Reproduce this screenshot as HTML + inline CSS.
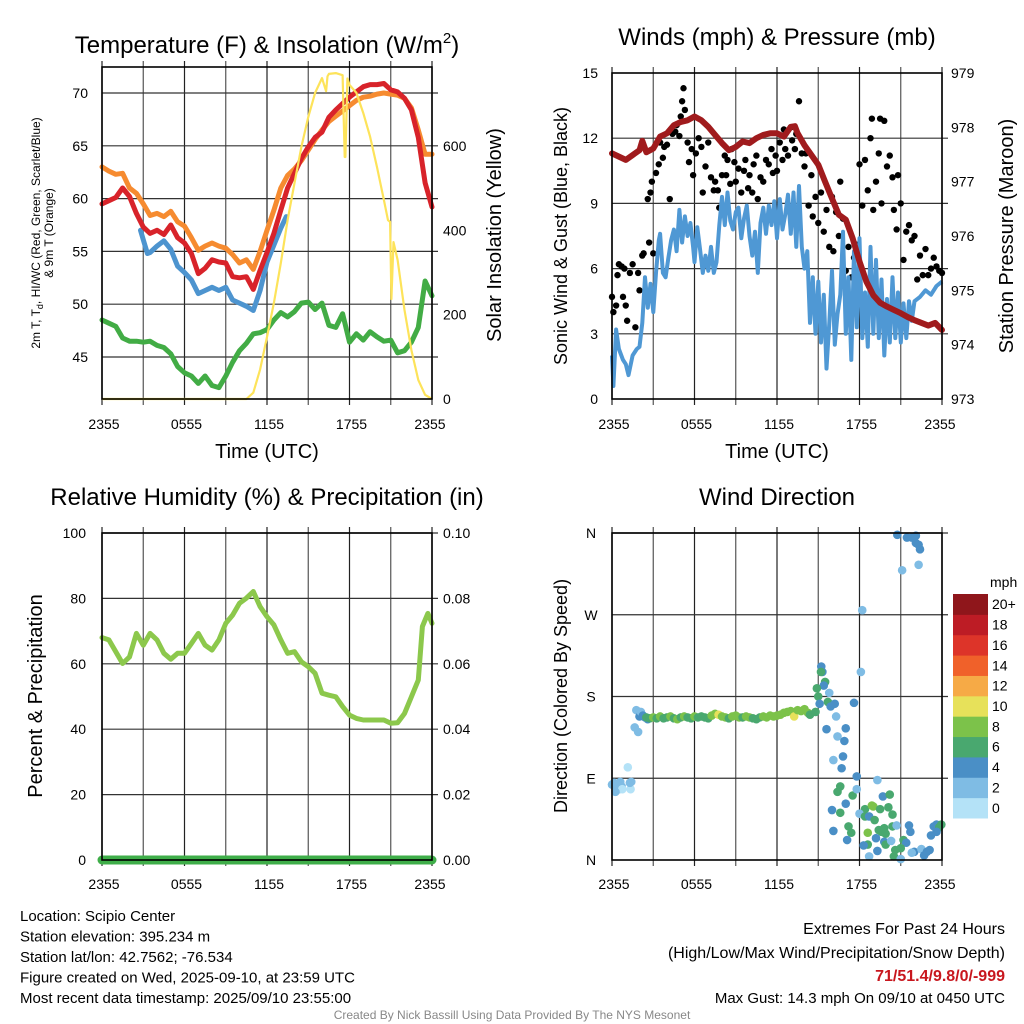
<!DOCTYPE html>
<html><head><meta charset="utf-8">
<style>
html,body{margin:0;padding:0;background:#fff;}
svg{display:block;font-family:"Liberation Sans",Arial,sans-serif;}
</style></head>
<body>
<svg id="chart" width="1024" height="1024" viewBox="0 0 1024 1024" xmlns="http://www.w3.org/2000/svg">
</svg>
<script>
// ---------- DATA ----------
const xTickLabels = ["2355","0555","1155","1755","2355"];
const halfHours = [0,0.5,1,1.5,2,2.5,3,3.5,4,4.5,5,5.5,6,6.5,7,7.5,8,8.5,9,9.5,10,10.5,11,11.5,12,12.5,13,13.5,14,14.5,15,15.5,16,16.5,17,17.5,18,18.5,19,19.5,20,20.5,21,21.5,22,22.5,23,23.5,24];
const temp2m = [59.5,59.8,60.1,61.0,60.2,58.6,57.3,56.7,57.0,56.6,57.5,56.3,55.8,54.8,52.9,53.4,54.2,54.0,53.9,52.6,52.5,52.6,51.4,53.2,54.9,56.7,58.9,61.0,62.4,63.8,64.9,65.8,66.3,67.7,68.4,69.0,69.6,70.1,70.6,70.8,70.8,70.9,70.3,70.1,69.5,68.4,65.8,61.5,59.2];
const temp9m = [63,62.6,62.3,62.4,61.0,60.5,59.5,58.4,58.6,58.3,58.8,57.8,57.4,56.3,55.1,55.5,55.8,55.5,55.3,54.7,53.9,54.2,53.3,55.0,57.0,58.9,61.0,62.2,62.8,63.6,64.6,65.6,66.5,67.3,67.8,68.3,68.8,69.3,69.6,69.7,69.9,70.0,69.9,69.8,69.5,68.6,66.5,64.2,64.2];
const dewpoint = [48.5,48.2,47.9,46.8,46.5,46.5,46.4,46.5,46.1,45.9,45.3,44.1,43.5,43.2,42.5,43.2,42.3,42.1,43.2,44.5,45.6,46.3,47.2,47.3,47.6,48.5,49.2,48.8,49.3,50.1,50.2,49.5,50.1,48.0,47.8,49.1,46.4,47.2,46.6,47.4,46.9,46.5,46.6,45.4,45.6,46.4,47.8,52.2,50.8];
const wcHours = [2.8,3.0,3.3,3.5,4.0,4.5,5.0,5.5,6.0,6.5,7.0,7.5,8.0,8.5,9.0,9.5,10.0,10.5,11.0,11.5,12.0,12.5,13.0,13.4];
const windChill = [57.0,56.1,54.8,54.9,55.5,56.0,55.2,53.6,53.0,52.3,51.0,51.3,51.6,51.3,51.6,50.4,50.1,49.8,49.4,51.3,54.0,55.6,57.2,58.3];
const solHours = [0,10.5,11,11.5,12,12.5,13,13.5,14,14.5,15,15.5,16,16.3,16.4,16.5,17,17.5,17.65,17.7,17.85,18,18.5,19,19.5,20,20.5,20.8,20.95,21.05,21.2,21.5,22,22.5,23,23.5,24];
const solar = [0,0,15,70,147,228,322,424,512,598,669,726,761,730,765,771,773,768,574,574,760,745,726,678,622,550,472,424,420,237,372,330,211,116,45,10,0];
const tempTicks = [45,50,55,60,65,70];
const solTicks = [0,200,400,600];

const windHours = [0,0.1,0.3,0.5,0.8,1.0,1.2,1.5,1.8,2.0,2.2,2.4,2.6,2.8,3.0,3.2,3.4,3.5,3.7,3.9,4.1,4.3,4.5,4.7,4.9,5.1,5.3,5.5,5.7,5.9,6.0,6.2,6.4,6.6,6.8,7.0,7.2,7.4,7.6,7.8,8.0,8.2,8.4,8.6,8.8,9.0,9.2,9.4,9.6,9.8,10.0,10.2,10.4,10.6,10.8,11.0,11.2,11.4,11.6,11.8,12.0,12.2,12.4,12.6,12.8,13.0,13.2,13.4,13.6,13.8,14.0,14.2,14.4,14.6,14.8,15.0,15.2,15.4,15.6,15.8,16.0,16.2,16.4,16.6,16.8,17.0,17.2,17.4,17.6,17.8,18.0,18.2,18.4,18.6,18.8,19.0,19.2,19.4,19.6,19.8,20.0,20.2,20.4,20.6,20.8,21.0,21.2,21.4,21.6,21.8,22.0,22.4,22.8,23.2,23.6,24.0];
const windSpeed = [2.0,0.6,3.2,2.3,1.8,1.6,1.1,2.0,2.3,2.4,3.5,5.6,4.2,5.3,4.0,5.8,7.3,7.6,5.8,5.6,6.5,7.3,7.8,6.8,8.7,7.2,8.4,7.5,8.1,7.0,6.3,7.9,6.9,5.8,6.6,5.9,7.0,5.8,6.3,8.0,9.3,8.0,9.5,8.2,7.8,8.6,8.8,7.4,8.3,8.9,7.5,6.6,7.7,5.8,8.1,8.8,7.6,8.9,8.0,9.1,7.4,9.2,7.8,8.5,9.4,7.6,9.5,7.0,9.8,7.0,6.0,6.8,3.5,5.6,3.0,5.4,2.6,4.8,1.4,3.5,5.9,2.5,3.9,4.8,7.7,3.0,5.6,1.8,6.8,3.3,7.4,2.8,4.9,2.4,7.0,3.0,6.4,2.8,5.5,2.0,4.6,2.6,5.6,2.8,4.9,2.6,4.4,2.8,4.5,3.6,4.5,4.7,5.0,4.8,5.2,5.4];
const gustHours = [0,0.1,0.3,0.4,0.5,0.7,0.8,0.9,1.0,1.1,1.3,1.5,1.7,1.9,2.0,2.2,2.3,2.6,2.7,2.8,2.9,3.0,3.2,3.4,3.5,3.7,3.8,4.0,4.2,4.4,4.6,4.7,4.9,5.0,5.1,5.2,5.3,5.5,5.6,5.8,5.9,6.1,6.3,6.5,6.6,6.8,7.0,7.2,7.4,7.5,7.7,7.8,8.0,8.2,8.3,8.4,8.6,8.7,8.9,9.0,9.2,9.4,9.6,9.7,9.9,10.0,10.2,10.3,10.5,10.6,10.8,11.0,11.2,11.4,11.6,11.7,11.9,12.0,12.2,12.4,12.5,12.6,12.8,13.0,13.1,13.3,13.4,13.6,13.8,14.0,14.1,14.3,14.5,14.6,14.8,15.0,15.2,15.4,15.6,15.8,16.0,16.1,16.3,16.5,16.6,16.8,17.0,17.2,17.4,17.6,17.8,18.0,18.2,18.4,18.6,18.8,18.9,19.0,19.2,19.4,19.5,19.6,19.8,20.0,20.2,20.4,20.5,20.7,20.8,21.0,21.2,21.4,21.6,21.8,22.0,22.2,22.4,22.6,22.8,23.0,23.2,23.4,23.6,23.8,24.0];
const gust = [4.7,4.0,4.3,5.7,6.2,6.1,4.7,6.0,4.3,3.6,5.8,6.2,3.3,5.8,5.0,6.6,6.7,9.2,7.2,9.5,10.0,6.7,10.4,10.8,11.8,11.1,11.6,11.7,9.2,12.2,12.3,12.6,12.1,13.0,13.7,14.3,13.3,11.8,10.9,11.5,10.3,11.3,12.0,11.6,9.5,10.7,11.8,10.2,9.6,10.0,9.6,8.8,10.3,11.2,10.3,11.0,9.9,11.5,10.9,10.0,10.6,9.5,10.5,11.0,9.7,10.3,9.5,10.8,11.2,9.2,10.2,10.0,11.0,10.8,11.5,10.4,11.2,10.5,11.8,11.0,12.4,11.5,11.2,12.5,11.9,11.5,12.2,13.7,11.3,10.7,11.3,8.9,10.3,8.4,9.3,8.1,9.5,7.7,8.7,7.0,9.3,6.8,8.6,7.5,10.0,8.3,5.9,7.0,5.6,6.5,7.1,10.8,8.9,11.0,9.6,12.0,12.9,8.7,10.0,11.3,12.9,9.0,12.8,10.7,11.2,10.2,8.7,7.8,10.3,9.0,6.4,7.7,8.0,7.3,7.5,5.5,6.6,5.7,6.9,5.7,6.0,6.5,6.1,5.9,5.8];
const presHours = [0,1,2,2.2,2.5,3,3.5,4,4.5,5,5.5,6,6.5,7,7.5,8,8.5,9,9.5,10,10.5,11,11.5,12,12.5,13,13.3,13.5,14,14.5,15,15.5,16,16.5,17,17.5,18,18.5,19,19.5,20,20.5,21,21.5,22,23,23.5,24];
const pressure = [977.52,977.40,977.58,977.75,977.54,977.61,977.83,977.89,978.04,978.10,978.13,978.20,978.13,978.01,977.86,977.71,977.58,977.64,977.74,977.71,977.80,977.86,977.89,977.89,977.83,978.01,978.02,977.89,977.67,977.49,977.31,977.00,976.69,976.39,976.30,975.96,975.53,975.16,974.91,974.77,974.70,974.64,974.58,974.51,974.45,974.35,974.40,974.27];
const windTicks = [0,3,6,9,12,15];
const presTicks = [973,974,975,976,977,978,979];

const rhHours = [0,0.5,1,1.5,2,2.5,3,3.5,4,4.5,5,5.5,6,6.5,7,7.5,8,8.5,9,9.5,10,10.5,11,11.5,12,12.5,13,13.5,14,14.5,15,15.5,16,16.5,17,17.5,18,18.5,19,19.5,20,20.5,21,21.5,22,22.5,23,23.3,23.5,23.7,24];
const rh = [68,67.3,63.7,60.1,62.1,69.3,65.7,69.3,67.3,63.2,61.4,63.2,63.2,66.2,69.3,65.7,64.2,67.3,72.4,74.9,78.5,80.1,82.1,77.5,74.4,71.9,67.3,63.2,63.7,60.6,59.1,57.1,51.0,50.4,49.9,46.9,44.3,43.3,42.8,42.8,42.8,42.8,41.8,42.0,44.8,49.9,55.0,71.4,73.4,75.4,72.4];
const precipHours = [0,24];
const precip = [0,0];
const rhTicks = [0,20,40,60,80,100];
const precipTicks = ["0.00","0.02","0.04","0.06","0.08","0.10"];

const dirHours = [0,0.15,0.25,0.35,0.45,0.5,0.6,0.7,0.75,0.25,1.15,1.4,1.35,1.3,1.77,2.0,1.65,1.9,2.1,2.4,2.6,
 2.25,2.5,2.75,3.0,3.25,3.5,3.75,4.0,4.25,4.5,4.75,5.0,5.25,5.5,5.75,6.0,6.25,6.5,6.75,7.0,7.25,7.5,7.75,8.0,8.25,8.5,8.75,9.0,9.25,9.5,9.75,10.0,10.25,10.5,10.75,11.0,11.25,11.5,11.75,12.0,12.25,12.5,12.75,13.0,13.25,13.5,13.75,14.0,14.25,14.4,
 15.22,15.3,15.2,15.5,15.4,14.9,15.0,15.8,15.7,15.9,16.2,15.1,14.8,16.3,17.6,18.1,18.2,15.6,17.0,16.4,16.9,16.1,16.8,16.7,17.8,19.3,16.6,16.4,17.5,17.8,17.0,19.7,20.2,16.0,16.6,18.4,18.9,19.0,19.5,20.1,20.4,18.0,18.4,18.7,19.1,17.2,17.4,16.1,17.1,18.6,19.4,19.6,19.9,19.8,20.4,20.7,19.2,19.8,19.9,20.3,18.6,18.3,19.3,20.5,20.6,21.0,18.7,21.2,21.4,21.6,21.7,21.0,21.98,21.8,22.5,22.7,22.9,23.1,23.2,23.4,23.6,23.8,23.95,23.6,
 20.75,21.45,21.8,22.1,22.1,22.3,22.4,21.1,22.3];
const dirDeg = [83,85,80,82,84,78,86,81,78,75,102,86,78,85,165,158,146,141,163,157,155,
 159,157,156,157,156,158,156,157,158,156,155,157,158,157,156,158,157,158,157,156,159,161,160,158,157,156,158,159,157,157,158,157,156,155,157,158,157,159,158,159,160,162,163,164,158,165,164,166,162,160,
 213,207,207,196,192,189,180,184,174,169,172,172,163,158,173,207,275,144,145,136,131,110,114,101,92,88,81,75,71,78,62,70,72,55,52,56,60,59,56,58,50,51,48,48,44,37,30,32,22,30,33,31,29,35,37,38,24,20,17,21,17,16,10,4,11,1,4,22,19,38,31,13,9,8,12,5,9,11,27,37,39,36,39,31,
 358,355,355,357,349,347,342,319,325];
const dirSpeed = [3,3,3,3,3,3,2,3,1,2,1,2,1,3,3,5,3,3,3,5,5,
 5,7,6,8,7,8,7,6,8,7,8,6,8,7,7,8,6,7,6,7,8,8,10,9,8,7,8,8,8,7,8,9,7,6,7,8,8,8,9,8,8,8,9,8,10,8,9,8,8,7,
 5,4,7,6,5,6,6,3,6,5,5,5,7,3,4,3,3,4,4,3,4,3,4,4,4,3,6,6,6,3,4,4,6,4,6,6,8,8,6,6,6,3,6,4,6,6,6,4,4,8,6,6,6,6,6,3,4,4,6,3,6,4,4,6,6,3,3,6,4,4,4,6,4,3,3,4,4,4,4,4,4,6,6,4,
 4,4,4,4,4,4,4,3,3];
const dirLabels = ["N","E","S","W","N"];
const cbarLabels = ["0","2","4","6","8","10","12","14","16","18","20+"];
const cbarColors = ["#b4e2f7","#7fbce4","#4a8fc6","#49a86f","#7cc24a","#e7e15a","#f6aa46","#f0612a","#dd3429","#bd1c25","#8f161b"];

// ---------- HELPERS ----------
const NS="http://www.w3.org/2000/svg";
const svg=document.getElementById('chart');
function el(tag,attrs,parent){const e=document.createElementNS(NS,tag);for(const k in attrs)e.setAttribute(k,attrs[k]);(parent||svg).appendChild(e);return e;}
function txt(str,x,y,size,anchor,parent,extra){const t=el('text',Object.assign({x:x,y:y,'font-size':size,'text-anchor':anchor||'middle',fill:'#000'},extra||{}),parent);t.textContent=str;return t;}
function panel(x0,x1,yTop,yBot){return {x0,x1,yTop,yBot,sx:h=>x0+(x1-x0)*h/24};}
function lin(v0,v1,p0,p1){return v=>p0+(v-v0)*(p1-p0)/(v1-v0);}
function pathD(xs,ys,fx,fy){return xs.map((h,i)=>(i?'L':'M')+fx(h).toFixed(1)+','+fy(ys[i]).toFixed(1)).join('');}
function grid(P,yVals,fy,g){
  for(let k=0;k<=8;k++){const x=P.x0+(P.x1-P.x0)*k/8;
    const l=el('line',{x1:x,x2:x,y1:P.yTop-6,y2:P.yBot+6,stroke:k%2?'#555':'#222','stroke-width':1.2},g);
    }
  yVals.forEach(v=>{const y=fy(v);const l=el('line',{x1:P.x0,x2:P.x1+6,y1:y,y2:y,stroke:'#333','stroke-width':1.2},g);
    });
}
function frame(P,g){const r=el('rect',{x:P.x0,y:P.yTop,width:P.x1-P.x0,height:P.yBot-P.yTop,fill:'none',stroke:'#000','stroke-width':1.6},g);
  }
function xLabels(P,y,g){xTickLabels.forEach((s,i)=>{const t=txt(s,P.x0+(P.x1-P.x0)*i/4+(i==0?2:i==4?-2:2),y,14,'middle',g);
  });}
function group(name){const g=el('g',{});return g;}

// ---------- PANEL 1: Temperature ----------
(function(){
 const g=group('temperature-panel');
 const P=panel(102,432,67,399);
 const fy=lin(45,70,357,93), fs=lin(0,600,399,146);
 grid(P,tempTicks,fy,g);
 const lines=[[halfHours,dewpoint,'#42ac45','dewpoint-line'],[wcHours,windChill,'#4d94cf','wind-chill-line'],[halfHours,temp9m,'#f68b30','temp-9m-line'],[halfHours,temp2m,'#d8232a','temp-2m-line']];
 lines.forEach(L=>{const p=el('path',{d:pathD(L[0],L[1],P.sx,fy),fill:'none',stroke:L[2],'stroke-width':5,'stroke-linejoin':'round','stroke-linecap':'round'},g);
   });
 const s=el('path',{d:pathD(solHours,solar,P.sx,fs),fill:'none',stroke:'#fde35a','stroke-width':2.2,'stroke-linejoin':'round'},g);
 
 frame(P,g);
 tempTicks.forEach(v=>{const t=txt(String(v),88,fy(v)+5,14,'end',g);});
 solTicks.forEach(v=>{const t=txt(String(v),443,fs(v)+5,14,'start',g);});
 xLabels(P,429,g);
 const ti=txt('',267,53,24,'middle',g);
 ti.innerHTML='Temperature (F) &amp; Insolation (W/m<tspan font-size="15" dy="-10">2</tspan><tspan dy="10">)</tspan>';
 const xt=txt('Time (UTC)',267,458,20,'middle',g);
 const yt=el('text',{transform:'translate(40,233) rotate(-90)','font-size':12,'text-anchor':'middle'},g);
 
 yt.innerHTML='2m T, T<tspan font-size="9" dy="3">d</tspan><tspan dy="-3">, HI/WC (Red, Green, Scarlet/Blue)</tspan>';
 const yt2=txt('& 9m T (Orange)',0,0,12,'middle',g,{transform:'translate(53,233) rotate(-90)'});
 
 const yr=txt('Solar Insolation (Yellow)',0,0,20,'middle',g,{transform:'translate(501,235) rotate(-90)'});
 
})();

// ---------- PANEL 2: Winds ----------
(function(){
 const g=group('winds-panel');
 const P=panel(612,942,73,399);
 const fy=lin(0,15,399,73), fp=lin(973,979,399,73);
 grid(P,windTicks.slice(1,5),fy,g);
 gustHours.forEach((h,i)=>{const c=el('circle',{cx:P.sx(h),cy:fy(gust[i]),r:3.2,fill:'#000'},g);
   });
 const w=el('path',{d:pathD(windHours,windSpeed,P.sx,fy),fill:'none',stroke:'#4f98d4','stroke-width':4,'stroke-linejoin':'round'},g);
 
 const p=el('path',{d:pathD(presHours,pressure,P.sx,fp),fill:'none',stroke:'#a01b1d','stroke-width':6,'stroke-linejoin':'round','stroke-linecap':'round'},g);
 
 frame(P,g);
 windTicks.forEach(v=>{const t=txt(String(v),598,fy(v)+5,14,'end',g);});
 presTicks.forEach(v=>{const t=txt(String(v),951,fp(v)+5,14,'start',g);});
 xLabels(P,429,g);
 const ti=txt('Winds (mph) & Pressure (mb)',777,45,24,'middle',g);
 const xt=txt('Time (UTC)',777,458,20,'middle',g);
 const yl=txt('Sonic Wind & Gust (Blue, Black)',0,0,18,'middle',g,{transform:'translate(567,236) rotate(-90)'});
 
 const yr=txt('Station Pressure (Maroon)',0,0,20,'middle',g,{transform:'translate(1013,236) rotate(-90)'});
 
})();

// ---------- PANEL 3: RH ----------
(function(){
 const g=group('humidity-panel');
 const P=panel(102,432,533,860);
 const fy=lin(0,100,860,533);
 grid(P,rhTicks.slice(1),fy,g);
 const r=el('path',{d:pathD(rhHours,rh,P.sx,fy),fill:'none',stroke:'#8cc84c','stroke-width':5,'stroke-linejoin':'round','stroke-linecap':'round'},g);
 
 const fpr=lin(0,0.1,860,533);
 const pr=el('path',{d:pathD(precipHours,precip,P.sx,fpr),fill:'none',stroke:'#3fae49','stroke-width':9,'stroke-linecap':'round'},g);
 
 frame(P,g);
 rhTicks.forEach(v=>{const t=txt(String(v),86,fy(v)+5,14,'end',g);});
 precipTicks.forEach((s,i)=>{const t=txt(s,443,fy(rhTicks[i])+5,14,'start',g);});
 xLabels(P,889,g);
 const ti=txt('Relative Humidity (%) & Precipitation (in)',267,505,24,'middle',g);
 const yl=txt('Percent & Precipitation',0,0,20,'middle',g,{transform:'translate(42,696) rotate(-90)'});
 
})();

// ---------- PANEL 4: Wind direction ----------
(function(){
 const g=group('wind-direction-panel');
 const P=panel(612,942,533,860);
 const fy=lin(0,360,860,533);
 grid(P,[90,180,270,360],fy,g);
 dirHours.forEach((h,i)=>{const bin=Math.min(10,Math.floor(dirSpeed[i]/2));
   const c=el('circle',{cx:P.sx(h),cy:fy(dirDeg[i]),r:4.3,fill:cbarColors[bin]},g);
   });
 frame(P,g);
 dirLabels.forEach((s,i)=>{const t=txt(s,591,fy(i*90)+5,14,'middle',g);});
 xLabels(P,889,g);
 const ti=txt('Wind Direction',777,505,24,'middle',g);
 const yl=txt('Direction (Colored By Speed)',0,0,18,'middle',g,{transform:'translate(567,696) rotate(-90)'});
 
 const cb=group('speed-colorbar');
 const top=594,bot=818,bh=(bot-top)/11;
 cbarColors.forEach((c,i)=>{const y=bot-(i+1)*bh;
   const r=el('rect',{x:953,y:y,width:35,height:bh+0.5,fill:c},cb);
   
   const t=txt(cbarLabels[i],992,y+bh/2+5,14,'start',cb);});
 const u=txt('mph',990,587,14,'start',cb);
})();

// ---------- FOOTER ----------
(function(){
 const g=group('footer');
 const left=["Location: Scipio Center","Station elevation: 395.234 m","Station lat/lon: 42.7562; -76.534","Figure created on Wed, 2025-09-10, at 23:59 UTC","Most recent data timestamp: 2025/09/10 23:55:00"];
 left.forEach((s,i)=>{const t=txt(s,20,921+i*20.5,15,'start',g);});
 const r1=txt('Extremes For Past 24 Hours',1005,934,16,'end',g);
 const r2=txt('(High/Low/Max Wind/Precipitation/Snow Depth)',1005,958,16,'end',g);
 const r3=txt('71/51.4/9.8/0/-999',1005,981,16,'end',g,{fill:'#c8171e','font-weight':'bold'});
 const r4=txt('Max Gust: 14.3 mph On 09/10 at 0450 UTC',1005,1003,15,'end',g);
 const c=txt('Created By Nick Bassill Using Data Provided By The NYS Mesonet',512,1019,12,'middle',g,{fill:'#888'});
})();
</script>
</body></html>
